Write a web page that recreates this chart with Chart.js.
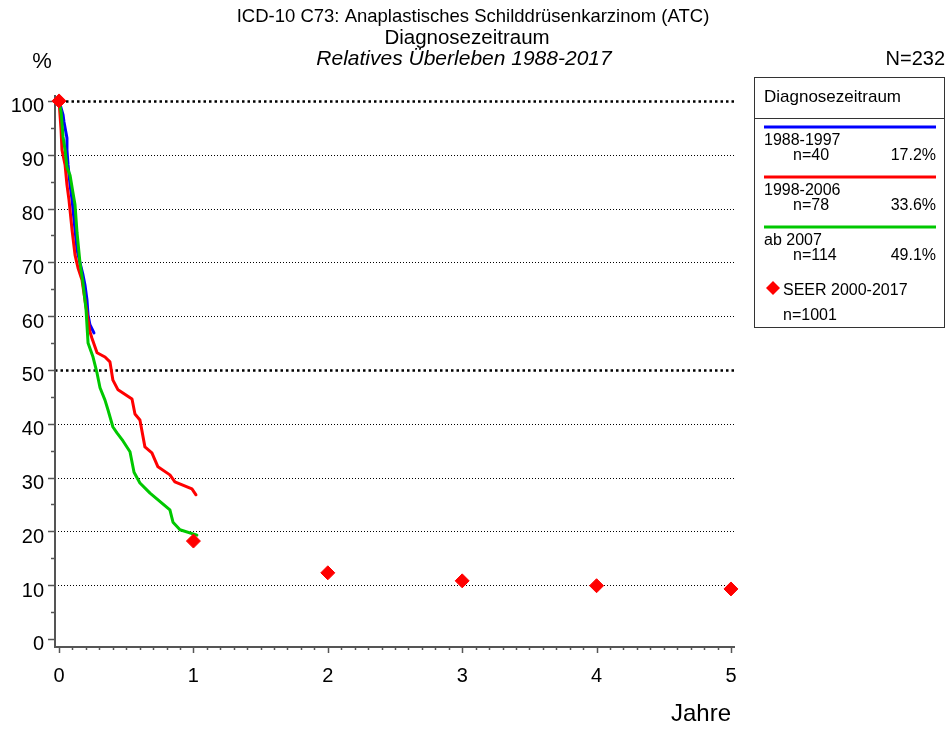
<!DOCTYPE html>
<html>
<head>
<meta charset="utf-8">
<script src="https://cdn.jsdelivr.net/npm/chart.js@4/dist/chart.umd.min.js"></script>
<style>
  body { margin: 0; background: #fff; }
  canvas { display: block; }
</style>
</head>
<body>
<canvas id="ueberleben" width="947" height="729"></canvas>
<script>
// Daten
var jahre1988 = [0, 0.03, 0.037, 0.059, 0.059, 0.067, 0.082, 0.097, 0.119, 0.134, 0.156, 0.178, 0.193, 0.208, 0.216, 0.23, 0.26];
var werte1988 = [100, 97.4, 96.1, 93.1, 90.9, 88.1, 84.4, 81.6, 76.0, 72.3, 69.9, 67.7, 65.8, 63.0, 60.2, 58.4, 56.9];

var jahre1998 = [0, 0.015, 0.022, 0.045, 0.059, 0.074, 0.097, 0.119, 0.141, 0.171, 0.193, 0.216, 0.23, 0.245, 0.283, 0.342, 0.379, 0.401, 0.439, 0.543, 0.565, 0.602, 0.639, 0.691, 0.736, 0.825, 0.862, 0.989, 1.019];
var werte1998 = [100, 94.6, 90.9, 88.1, 84.4, 81.6, 76.0, 71.4, 69.0, 66.7, 63.0, 59.3, 57.1, 55.9, 53.2, 52.4, 51.5, 48.1, 46.3, 44.6, 41.8, 40.7, 35.7, 34.6, 32.0, 30.5, 29.2, 27.9, 26.8];

var jahre2007 = [0, 0.015, 0.03, 0.045, 0.059, 0.082, 0.104, 0.119, 0.134, 0.156, 0.178, 0.201, 0.216, 0.253, 0.283, 0.305, 0.342, 0.364, 0.401, 0.431, 0.476, 0.528, 0.558, 0.602, 0.677, 0.825, 0.848, 0.9, 1.026];
var werte2007 = [100, 98.0, 93.3, 90.9, 87.7, 86.2, 82.9, 80.7, 75.5, 69.9, 66.2, 61.2, 55.0, 52.4, 49.4, 46.7, 44.4, 42.6, 39.4, 38.3, 36.8, 34.8, 31.0, 29.0, 27.1, 24.0, 21.7, 20.3, 19.3];

var seerJahre = [0, 1, 2, 3, 4, 5];
var seerWerte = [100, 18.2, 12.3, 10.8, 9.9, 9.3];

var yTicks = [0, 10, 20, 30, 40, 50, 60, 70, 80, 90, 100];
var xTicks = [0, 1, 2, 3, 4, 5];

var titelZeilen = ['ICD-10 C73: Anaplastisches Schilddrüsenkarzinom (ATC)', 'Diagnosezeitraum', 'Relatives Überleben 1988-2017'];
var gruppen = ['1988-1997', '1998-2006', 'ab 2007'];
var gruppenN = ['n=40', 'n=78', 'n=114'];
var gruppenAnteil = ['17.2%', '33.6%', '49.1%'];
var farben = ['#0000ff', '#ff0000', '#00c800'];

var schrift = "'Liberation Sans', Arial, sans-serif";

function punkte(xs, ys) {
  return xs.map(function (x, i) { return { x: x, y: ys[i] }; });
}

function linie(label, xs, ys, farbe, order) {
  return {
    label: label,
    data: punkte(xs, ys),
    showLine: true,
    borderColor: farbe,
    backgroundColor: farbe,
    borderWidth: 3,
    pointRadius: 0,
    borderJoinStyle: 'round',
    borderCapStyle: 'round',
    clip: false,
    order: order
  };
}

function raute(ctx, x, y, r) {
  ctx.beginPath();
  ctx.moveTo(x, y - r);
  ctx.lineTo(x + r, y);
  ctx.lineTo(x, y + r);
  ctx.lineTo(x - r, y);
  ctx.closePath();
  ctx.fill();
}

// Achsen, Gitter und Beschriftung selbst zeichnen
var achsenPlugin = {
  id: 'achsen',
  beforeDatasetsDraw: function (chart) {
    var ctx = chart.ctx;
    var xs = chart.scales.x;
    var ys = chart.scales.y;
    var area = chart.chartArea;
    ctx.save();

    // Gitterlinien
    ctx.strokeStyle = '#000';
    yTicks.forEach(function (v) {
      if (v === 0) return;
      var py = Math.round(ys.getPixelForValue(v)) + 0.5;
      var dick = (v === 50 || v === 100);
      ctx.lineWidth = dick ? 2.5 : 1;
      ctx.setLineDash(dick ? [2.5, 3] : [1, 2]);
      ctx.beginPath();
      ctx.moveTo(area.left, py);
      ctx.lineTo(area.right, py);
      ctx.stroke();
    });
    ctx.setLineDash([]);

    // Achsenlinien
    ctx.strokeStyle = '#555';
    ctx.lineWidth = 2;
    ctx.beginPath();
    ctx.moveTo(area.left, area.top);
    ctx.lineTo(area.left, area.bottom);
    ctx.lineTo(area.right, area.bottom);
    ctx.stroke();

    // y-Striche (alle 5)
    ctx.lineWidth = 1.5;
    for (var v = 0; v <= 100; v += 5) {
      var py = Math.round(ys.getPixelForValue(v)) + 0.5;
      var len = (v % 10 === 0) ? 7 : 4;
      ctx.beginPath();
      ctx.moveTo(area.left - len, py);
      ctx.lineTo(area.left, py);
      ctx.stroke();
    }
    // x-Striche (alle 0.1 Jahre)
    for (var i = 0; i <= 50; i++) {
      var px = Math.round(xs.getPixelForValue(i / 10)) + 0.5;
      var lenX = (i % 10 === 0) ? 6 : 3;
      ctx.beginPath();
      ctx.moveTo(px, area.bottom);
      ctx.lineTo(px, area.bottom + lenX);
      ctx.stroke();
    }

    // Tick-Beschriftung
    ctx.fillStyle = '#000';
    ctx.font = '20px ' + schrift;
    ctx.textAlign = 'right';
    ctx.textBaseline = 'middle';
    yTicks.forEach(function (v) {
      ctx.fillText(String(v), 44, ys.getPixelForValue(v) + 6);
    });
    ctx.textAlign = 'center';
    xTicks.forEach(function (v) {
      ctx.fillText(String(v), xs.getPixelForValue(v), 676);
    });
    ctx.restore();
  },
  afterDraw: function (chart) {
    var ctx = chart.ctx;
    ctx.save();
    ctx.fillStyle = '#000';
    ctx.textBaseline = 'middle';

    // Titel
    ctx.textAlign = 'center';
    ctx.font = '18.5px ' + schrift;
    ctx.fillText(titelZeilen[0], 473, 17);
    ctx.font = '20.5px ' + schrift;
    ctx.fillText(titelZeilen[1], 467, 38);
    ctx.font = 'italic 21px ' + schrift;
    ctx.fillText(titelZeilen[2], 464, 59);

    ctx.font = '22px ' + schrift;
    ctx.fillText('%', 42, 62);
    ctx.textAlign = 'right';
    ctx.font = '20px ' + schrift;
    ctx.fillText('N=232', 945, 59);
    ctx.font = '24px ' + schrift;
    ctx.fillText('Jahre', 731, 714);

    // Legende
    ctx.strokeStyle = '#333';
    ctx.lineWidth = 1;
    ctx.strokeRect(754.5, 77.5, 190, 250);
    ctx.beginPath();
    ctx.moveTo(754, 118.5);
    ctx.lineTo(945, 118.5);
    ctx.stroke();

    ctx.textAlign = 'left';
    ctx.font = '17px ' + schrift;
    ctx.fillText('Diagnosezeitraum', 764, 97);

    for (var i = 0; i < gruppen.length; i++) {
      var y0 = 127 + i * 50;
      ctx.strokeStyle = farben[i];
      ctx.lineWidth = 3;
      ctx.beginPath();
      ctx.moveTo(764, y0);
      ctx.lineTo(936, y0);
      ctx.stroke();
      ctx.font = '16px ' + schrift;
      ctx.textAlign = 'left';
      ctx.fillText(gruppen[i], 764, y0 + 14);
      ctx.fillText(gruppenN[i], 793, y0 + 29);
      ctx.textAlign = 'right';
      ctx.fillText(gruppenAnteil[i], 936, y0 + 29);
    }

    ctx.fillStyle = '#ff0000';
    raute(ctx, 773, 288, 7);
    ctx.fillStyle = '#000';
    ctx.textAlign = 'left';
    ctx.font = '16px ' + schrift;
    ctx.fillText('SEER 2000-2017', 783, 291);
    ctx.fillText('n=1001', 783, 316);
    ctx.restore();
  }
};

var ctx = document.getElementById('ueberleben').getContext('2d');

var chart = new Chart(ctx, {
  type: 'scatter',
  data: {
    datasets: [
      {
        label: 'SEER 2000-2017',
        data: punkte(seerJahre, seerWerte),
        pointStyle: 'rectRot',
        pointRadius: 7,
        pointBackgroundColor: '#ff0000',
        pointBorderColor: '#ff0000',
        pointBorderWidth: 1,
        showLine: false,
        clip: false,
        order: 0
      },
      linie(gruppen[2], jahre2007, werte2007, farben[2], 1),
      linie(gruppen[1], jahre1998, werte1998, farben[1], 2),
      linie(gruppen[0], jahre1988, werte1988, farben[0], 3)
    ]
  },
  options: {
    responsive: false,
    animation: false,
    devicePixelRatio: 1,
    layout: { padding: { left: 55, right: 212, top: 95, bottom: 82 } },
    plugins: {
      legend: { display: false },
      tooltip: { enabled: false }
    },
    scales: {
      x: { type: 'linear', min: -0.03, max: 5.03, display: false },
      y: { type: 'linear', min: -1.49, max: 101.1, display: false }
    }
  },
  plugins: [achsenPlugin]
});
</script>
</body>
</html>
